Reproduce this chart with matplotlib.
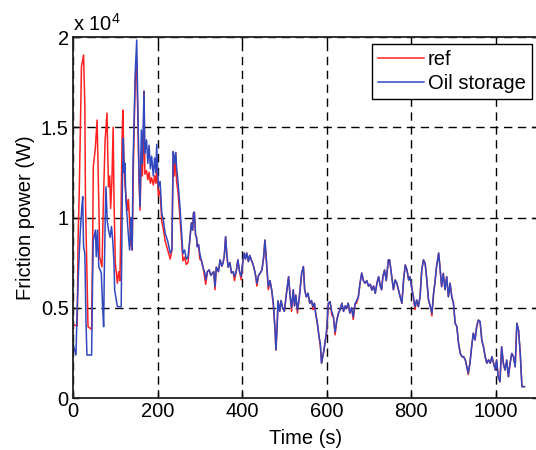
import matplotlib
matplotlib.use("Agg")
import matplotlib.pyplot as plt
from matplotlib.ticker import FuncFormatter

plt.rcParams['font.family'] = ['Liberation Sans', 'DejaVu Sans']
plt.rcParams['mathtext.fontset'] = 'custom'
plt.rcParams['mathtext.rm'] = 'Liberation Sans'

# ---- Oil storage (blue) ----
oil_time = [0, 2, 7, 9.6, 13.4, 17, 21, 23, 25, 28, 30.8, 33, 44, 46.6, 48, 53, 55, 58, 61, 67,
            70, 72.5, 74, 76.5, 78, 81, 84, 88, 91, 94, 97, 98.6, 102, 105, 114, 117, 119, 121,
            123, 125, 128, 131, 134, 137, 140, 142, 144.6, 147.5, 150.7, 153, 156, 158.6, 161.7,
            164, 166.5, 168, 170, 174, 177, 180, 183, 186, 190, 193, 196, 198, 202, 206, 210,
            214, 218, 224, 230, 234, 237, 240, 243, 245, 248, 253, 257, 260, 264, 268, 272, 277,
            280, 283, 285, 287, 290, 292, 294, 297, 300, 304, 308, 312, 314, 318, 322, 326, 330,
            333, 336, 339, 344, 348, 352, 355, 358, 361, 364, 367, 371, 375, 379, 382, 386, 390,
            394, 398, 401, 405, 408, 411, 415, 418, 422, 426, 431, 435, 439, 443, 447, 451, 454,
            458, 462, 466, 470, 474, 478, 480, 483, 485, 489, 492, 496, 500, 504, 510, 513, 517,
            521, 524, 527, 531, 535, 541, 545, 548, 552, 556, 560, 564, 568, 571, 574, 578, 582,
            585, 588, 591, 594, 597, 600, 604, 608, 612, 616, 620, 624, 628, 632, 636, 640, 644,
            647, 651, 655, 659, 663, 667, 671, 675, 679, 683, 687, 691, 695, 699, 703, 707, 711,
            715, 719, 723, 727, 730, 733, 737, 741, 746, 749, 752, 758, 762, 766, 770, 774, 778,
            782, 786, 790, 794, 797, 801, 805, 809, 813, 817, 821, 825, 829, 833, 837, 841, 845,
            849, 853, 856, 860, 865, 868, 872, 876, 880, 884, 888, 892, 896, 900, 904, 908, 912,
            916, 920, 924, 928, 932, 935, 939, 943, 947, 951, 955, 959, 963, 967, 971, 975, 979,
            983, 987, 991, 995, 999, 1002, 1006, 1010, 1014, 1018, 1022, 1026, 1030, 1034, 1038,
            1042, 1046, 1050, 1054, 1058, 1062, 1068]
oil_power = [3100, 2840, 2380, 4700, 7270, 9130, 10600, 11150, 8380, 8000, 4150, 2380, 2380, 6920,
             8750, 9300, 7830, 9300, 7270, 6920, 5060, 3950, 6920, 10250, 11700, 9800, 9300, 8900,
             9500, 8750, 7480, 5980, 5500, 5060, 5060, 12000, 14400, 12500, 13000, 11000, 10000,
             9000, 8200, 10000, 8200, 13000, 15400, 18170, 19830, 16700, 12630, 10600, 14850,
             13000, 15400, 17000, 13550, 14300, 13000, 14000, 12700, 13400, 12300, 13300, 12500,
             14050, 11700, 12000, 10250, 9800, 9130, 8700, 8030, 8200, 13650, 13000, 13600, 12800,
             12080, 10600, 9130, 8000, 8200, 7700, 7800, 8940, 9700, 9300, 10250, 10300, 9000,
             8940, 8380, 8500, 8000, 7600, 7200, 6920, 6540, 7000, 7100, 6800, 6920, 7000, 6170,
             7250, 7000, 7650, 7300, 7480, 7900, 8940, 7900, 7250, 7500, 6920, 7000, 6730, 7000,
             7650, 7000, 6730, 7400, 8030, 7700, 8030, 7560, 7900, 7640, 7400, 6920, 6360, 6800,
             6920, 7100, 7800, 8750, 7420, 6170, 6500, 5990, 5250, 3770, 2660, 4000, 5380, 4800,
             5400, 5000, 4800, 5610, 6720, 5800, 5000, 6000, 5100, 5700, 4870, 5500, 6920, 7280,
             6000, 5600, 5800, 5250, 5400, 5060, 5250, 4700, 4140, 3400, 3040, 1930, 2300, 2700,
             3200, 3770, 5250, 5340, 4800, 4500, 3670, 4300, 4700, 4900, 5250, 4800, 5100, 4950,
             5250, 4700, 5000, 4500, 5200, 5400, 5600, 6360, 6920, 6500, 6360, 6500, 6200, 6300,
             5980, 6200, 5800, 6360, 6720, 6200, 6000, 6720, 7090, 6500, 7650, 7650, 7090, 6000,
             6540, 6360, 5980, 5600, 5250, 6540, 7370, 7090, 6540, 6720, 6170, 5610, 5060, 5430,
             5060, 5610, 7090, 7650, 7460, 6540, 5430, 5100, 4700, 5800, 6360, 7270, 8030, 7270,
             6170, 6900, 6000, 6720, 5610, 6360, 5610, 5250, 4140, 3960, 3040, 2480, 2290, 2290,
             2110, 1700, 1380, 1930, 2840, 3590, 3220, 3960, 4320, 4230, 3220, 2840, 2290, 1930,
             2110, 1930, 2290, 1930, 1550, 2110, 1180, 900, 2840, 1920, 1550, 2100, 1180, 1920,
             2470, 2290, 1730, 4140, 3760, 2470, 630, 630]

# ---- ref (red): early part differs, later coincides with oil storage ----
ref_early_time = [0, 4, 10, 12, 15, 20, 25, 28, 29.5, 33, 35.5, 44, 46.6, 48, 53, 57, 59, 62, 63,
                  68.6, 72, 76, 80.5, 82, 84, 87, 89, 92, 95, 97, 100, 105, 108, 111, 113, 116,
                  118, 120, 123, 128.6, 131, 134, 137, 140, 143, 147, 150, 153]
ref_early_power = [4000, 4040, 4000, 8750, 11700, 18350, 19000, 16140, 11000, 6920, 3950, 3800,
                   8750, 12800, 13900, 15400, 13000, 9700, 7830, 7270, 11000, 14300, 15780, 13800,
                   11700, 12300, 10500, 12000, 15000, 11000, 7500, 6360, 7000, 6500, 9300, 14300,
                   15950, 13500, 11800, 10400, 11000, 9700, 8500, 8200, 13000, 17500, 18800, 16000]
# points where the red trace shows slightly below the blue one (time: power)
ref_dips = {156: 12200, 158.6: 10400, 161.7: 13600, 164: 12300, 166.5: 13800, 170: 12400,
            174: 12600, 177: 12100, 180: 12500, 183: 11900, 186: 12200, 190: 11800,
            193: 12300, 196: 11900, 198: 12800, 202: 11200, 206: 11500, 210: 9800,
            214: 9300, 218: 8700, 224: 8200, 230: 7700, 240: 12300, 245: 12000, 248: 11500,
            253: 10000, 257: 8700, 260: 7600, 264: 7800, 268: 7400, 272: 7500, 300: 7700,
            312: 6600, 314: 6300, 336: 6000, 382: 6500, 398: 6550, 435: 6200, 462: 6000,
            474: 5100, 517: 4800, 531: 4700, 568: 4900, 585: 2900, 600: 3600, 612: 4600,
            620: 3500, 663: 4350, 671: 5250, 809: 4900, 849: 4550, 935: 1300}

ref_time = list(ref_early_time)
ref_power = list(ref_early_power)
for t, p in zip(oil_time, oil_power):
    if t >= 156:
        ref_time.append(t)
        ref_power.append(ref_dips.get(t, p))

FS = 14.5
W, H = 536, 450
fig = plt.figure(figsize=(W / 100, H / 100), dpi=100)
ax = fig.add_axes([73 / W, 1 - 398 / H, (538 - 73) / W, (398 - 37) / H])

ax.plot(ref_time, ref_power, color='#ff2020', lw=1.1, label='ref')
ax.plot(oil_time, oil_power, color='#3049c0', lw=1.1, label='Oil storage')

ax.set_xlim(0, 1100)
ax.set_ylim(0, 20000)
ax.set_xticks([0, 200, 400, 600, 800, 1000])
ax.set_yticks([0, 5000, 10000, 15000, 20000])
ax.yaxis.set_major_formatter(FuncFormatter(lambda v, p: f"{v / 1e4:g}"))
ax.tick_params(direction='in', top=True, right=True, length=4, width=1,
               labelsize=FS, pad=3, colors='black')
ax.grid(True, color='black', linestyle=(0, (6, 4)), linewidth=1.0)
ax.set_axisbelow(True)
for s in ax.spines.values():
    s.set_linewidth(1.3)
    s.set_color('#222222')

ax.set_xlabel('Time (s)', fontsize=FS, labelpad=6)
ax.set_ylabel('Friction power (W)', fontsize=FS, labelpad=4)

fig.text(73 / W, 1 - 31 / H, r'x 10$^{4}$', fontsize=FS, ha='left', va='baseline')

leg = ax.legend(loc='upper right', bbox_to_anchor=(532 / W, 1 - 44 / H),
                bbox_transform=fig.transFigure, borderaxespad=0, fontsize=FS,
                handlelength=2.3, handletextpad=0.2, labelspacing=0.25,
                borderpad=0.3, fancybox=False, framealpha=1, edgecolor='black')
leg.get_frame().set_linewidth(1.0)

fig.savefig('out.png', dpi=100)
